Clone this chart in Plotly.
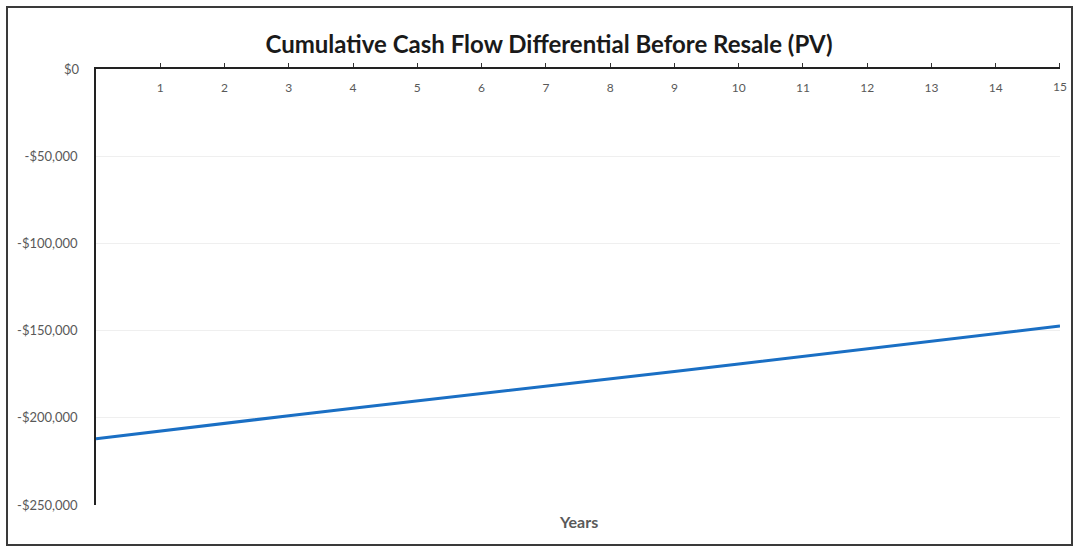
import plotly.graph_objects as go

years = list(range(0, 16))
cum_cash_flow = [-212000, -207500, -203100, -198800, -194500, -190200, -186000,
                 -181800, -177600, -173400, -169200, -164900, -160600, -156200,
                 -151800, -147400]
tick_years = list(range(1, 16))
y_ticks = [0, -50000, -100000, -150000, -200000, -250000]
y_tick_labels = ["$0", "-$50,000", "-$100,000", "-$150,000", "-$200,000", "-$250,000"]

W, H = 1076, 548
L, R, T, B = 96, 16, 69, 43
FONT = "Lato, Open Sans, sans-serif"

fig = go.Figure()
fig.add_trace(go.Scatter(x=years, y=cum_cash_flow, mode="lines",
                         line=dict(color="#1a6fc4", width=3), showlegend=False))

pw = W - L - R
ph = H - T - B
fig.add_shape(type="rect", xref="paper", yref="paper",
              x0=(7 - L) / pw, x1=(1072 - L) / pw,
              y0=(H - B - 545) / ph, y1=(H - B - 7) / ph,
              line=dict(color="#3a3a3a", width=2), fillcolor="rgba(0,0,0,0)",
              layer="below")

annotations = [
    dict(text="<b>Years</b>", x=0.5, xref="paper", xanchor="center",
         y=-(521 - (H - B)) / ph, yref="paper", yanchor="middle", showarrow=False,
         font=dict(size=16, color="#595959", family=FONT)),
    # edge tick labels that Plotly hides at the plot border
    dict(text=str(tick_years[-1]), x=tick_years[-1], xref="x", xanchor="center",
         y=0, yref="y", yanchor="top", yshift=-8, showarrow=False,
         font=dict(size=12, color="#595959", family=FONT)),
    dict(text=y_tick_labels[0], x=0, xref="paper", xanchor="right", xshift=-14,
         y=y_ticks[0], yref="y", yanchor="middle", showarrow=False,
         font=dict(size=13, color="#595959", family=FONT)),
]

fig.update_layout(
    width=W, height=H,
    margin=dict(l=L, r=R, t=T, b=B),
    paper_bgcolor="white", plot_bgcolor="white",
    font=dict(family=FONT, color="#595959", size=12),
    title=dict(text="<b>Cumulative Cash Flow Differential Before Resale (PV)</b>",
               x=549 / W, xref="container", xanchor="center", y=1 - 45 / H, yanchor="middle",
               font=dict(size=24, color="#1a1a1a", family=FONT)),
    xaxis=dict(range=[0, 15.0001], side="top", tickvals=tick_years,
               ticktext=[str(v) for v in tick_years],
               ticklabelposition="inside", ticks="outside", ticklen=4,
               ticklabelstandoff=14,
               tickcolor="#333333", showline=True, linecolor="#222222", linewidth=1.5,
               showgrid=False, zeroline=False, fixedrange=True,
               tickfont=dict(size=12, color="#595959")),
    yaxis=dict(range=[-250000, 1], tickvals=y_ticks, ticktext=y_tick_labels,
               showline=True, linecolor="#222222", linewidth=1.5,
               showgrid=True, gridcolor="#efefef", gridwidth=1,
               zeroline=False, ticks="", ticklabelstandoff=14, fixedrange=True,
               tickfont=dict(size=13, color="#595959")),
    annotations=annotations,
)

fig.write_html("out.html", config={"displayModeBar": False},
               post_script="document.body.style.margin='0';document.body.style.padding='0';")
